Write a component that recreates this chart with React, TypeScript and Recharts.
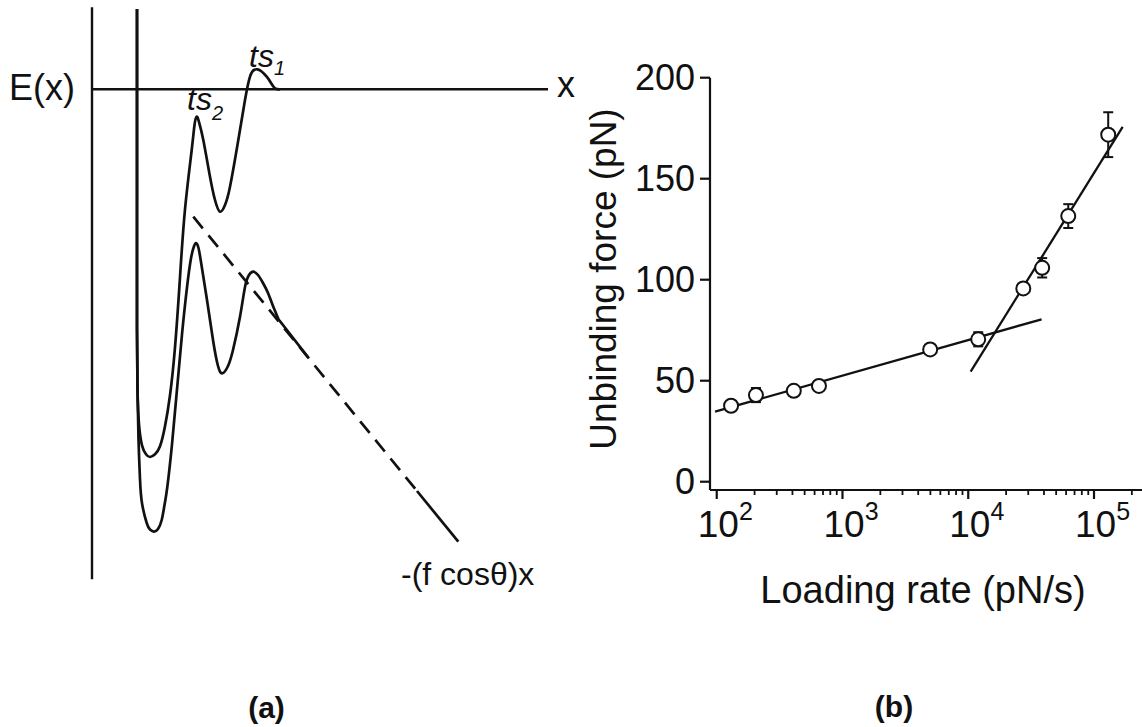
import React from "react";
import { ComposedChart, Line, Scatter, XAxis, YAxis, ErrorBar, ReferenceLine } from "recharts";

const FONT = "'Liberation Sans', Arial, Helvetica, sans-serif";
const INK = "#111";

// ---- panel (a): schematic energy landscape (arbitrary units) ----
const upperX = [4.5, 4.5, 4.5, 4.5, 4.5, 4.55, 4.7, 5.0, 5.4, 5.8, 6.3, 6.8, 7.3, 7.8, 8.3, 8.8, 9.3, 9.97, 10.25, 10.47, 10.7, 11.13, 11.8, 12.3, 12.8, 13.3, 13.8, 14.63, 15.3, 15.8, 16.2, 16.53, 16.9, 17.47, 17.9, 18.3, 18.8];
const upperE = [8.03, 0, -8, -16, -24, -30, -33.5, -35.6, -36.5, -36.77, -36.5, -35.7, -33.7, -30.6, -25.8, -18.8, -12.0, -6.07, -3.57, -2.74, -3.27, -5.07, -8.74, -11.07, -12.24, -11.57, -9.74, -5.07, -1.07, 1.26, 1.93, 2.0, 1.83, 1.26, 0.63, 0.1, 0];

const lowerX = [4.5, 4.5, 4.5, 4.5, 4.5, 4.55, 4.65, 4.8, 5.0, 5.47, 5.8, 6.2, 6.6, 6.97, 7.25, 7.53, 8.0, 8.5, 9.0, 9.5, 9.9, 10.2, 10.43, 10.65, 10.9, 11.5, 12.1, 12.6, 13.05, 13.6, 14.1, 14.8, 15.3, 15.7, 16.13, 16.6, 17.1, 17.6, 18.1, 18.6, 19.1, 21.63];
const lowerE = [8.03, 0, -8, -16, -24, -30, -35, -39, -41.4, -43.37, -44.02, -44.24, -43.97, -43.07, -41.57, -39.77, -35.5, -30.0, -24.5, -19.8, -16.9, -15.7, -15.4, -15.87, -17.27, -21.07, -25.07, -27.67, -28.4, -27.67, -26.07, -22.74, -19.77, -18.57, -18.24, -18.57, -19.37, -20.37, -21.67, -22.87, -23.57, -26.84];

const tiltX = [10.13, 32.5];
const tiltE = [-12.74, -40.17];
const tailX = [32.5, 36.63];
const tailE = [-40.17, -45.24];

// ---- panel (b): unbinding force vs loading rate ----
const loadingRates = [130, 205, 410, 650, 4980, 12000, 27400, 38700, 62400, 129700];
const unbindingForces = [37.6, 42.9, 45.0, 47.4, 65.5, 70.5, 95.7, 105.9, 131.5, 171.8];
const forceErrors = [1, 3.5, 1, 1, 1, 3.5, 1, 4.8, 5.9, 11.1];

const lowFitRates = [97, 38300];
const lowFitForces = [34.7, 80.4];
const highFitRates = [10450, 169000];
const highFitForces = [54.5, 175.7];

const forceTicks = [0, 50, 100, 150, 200];
const rateTicks = [
  100, 200, 300, 400, 500, 600, 700, 800, 900,
  1000, 2000, 3000, 4000, 5000, 6000, 7000, 8000, 9000,
  10000, 20000, 30000, 40000, 50000, 60000, 70000, 80000, 90000,
  100000, 200000,
];

const toXY = (xs: number[], ys: number[]) => xs.map((x, i) => ({ x, e: ys[i] }));

const upper = toXY(upperX, upperE);
const lower = toXY(lowerX, lowerE);
const tilt = toXY(tiltX, tiltE);
const tail = toXY(tailX, tailE);

const points = loadingRates.map((rate, i) => ({ rate, force: unbindingForces[i], err: forceErrors[i] }));
const lowFit = lowFitRates.map((rate, i) => ({ rate, force: lowFitForces[i] }));
const highFit = highFitRates.map((rate, i) => ({ rate, force: highFitForces[i] }));

const OpenCircle = (p: any) => (
  <circle cx={p.cx} cy={p.cy} r={7} fill="#fff" stroke={INK} strokeWidth={2} />
);

function LogTick(props: any) {
  const { x, y, payload } = props;
  const lg = Math.log10(payload.value);
  const exp = Math.round(lg);
  const major = Math.abs(lg - exp) < 1e-6;
  return (
    <g>
      <line x1={x} y1={y} x2={x} y2={y + (major ? 9 : 5)} stroke={INK} strokeWidth={major ? 2.2 : 1.8} />
      {major && (
        <text x={x - 19} y={y + 47} fontSize={37} fontFamily={FONT} fill={INK}>
          10
          <tspan dy={-17} fontSize={25}>
            {exp}
          </tspan>
        </text>
      )}
    </g>
  );
}

export default function App() {
  return (
    <div style={{ position: "absolute", left: 0, top: 0, width: 1142, height: 727, background: "#fff" }}>
      {/* (a) energy landscape */}
      <div style={{ position: "absolute", left: 0, top: 0 }}>
        <ComposedChart width={560} height={727} margin={{ top: 7.3, right: 12, bottom: 147.7, left: 92 }}>
          <XAxis type="number" dataKey="x" domain={[0, 45.6]} hide allowDataOverflow />
          <YAxis type="number" dataKey="e" domain={[-49, 8.2]} hide allowDataOverflow />
          <ReferenceLine x={0} stroke={INK} strokeWidth={2.4} />
          <ReferenceLine y={0} stroke={INK} strokeWidth={2.4} />
          <Line data={upper} dataKey="e" type="natural" stroke={INK} strokeWidth={2.7} dot={false} activeDot={false} isAnimationActive={false} />
          <Line data={lower} dataKey="e" type="natural" stroke={INK} strokeWidth={2.7} dot={false} activeDot={false} isAnimationActive={false} />
          <Line data={tilt} dataKey="e" type="linear" stroke={INK} strokeWidth={2.7} strokeDasharray="15 9" dot={false} activeDot={false} isAnimationActive={false} />
          <Line data={tail} dataKey="e" type="linear" stroke={INK} strokeWidth={2.7} dot={false} activeDot={false} isAnimationActive={false} />
        </ComposedChart>
      </div>

      {/* (b) dynamic force spectrum */}
      <div style={{ position: "absolute", left: 560, top: 0 }}>
        <ComposedChart width={582} height={727} margin={{ top: 77.7, right: 0, bottom: 197, left: 90 }}>
          <XAxis
            type="number"
            dataKey="rate"
            scale="log"
            domain={[88.4, 240800]}
            allowDataOverflow
            ticks={rateTicks}
            interval={0}
            height={40}
            tickSize={0}
            tickMargin={0}
            tickLine={false}
            tick={<LogTick />}
            axisLine={{ stroke: INK, strokeWidth: 2.2 }}
          />
          <YAxis
            type="number"
            domain={[-4.1, 200]}
            allowDataOverflow
            ticks={forceTicks}
            width={60}
            tickSize={10}
            tickMargin={5}
            axisLine={{ stroke: INK, strokeWidth: 2.2 }}
            tickLine={{ stroke: INK, strokeWidth: 2.2 }}
            tick={{ fontSize: 36, fontFamily: FONT, fill: INK }}
          />
          <Line data={lowFit} dataKey="force" type="linear" stroke={INK} strokeWidth={2.3} dot={false} activeDot={false} isAnimationActive={false} />
          <Line data={highFit} dataKey="force" type="linear" stroke={INK} strokeWidth={2.3} dot={false} activeDot={false} isAnimationActive={false} />
          <Scatter data={points} dataKey="force" shape={OpenCircle} isAnimationActive={false}>
            <ErrorBar dataKey="err" direction="y" width={5} stroke={INK} strokeWidth={2} />
          </Scatter>
        </ComposedChart>
      </div>

      {/* text annotations */}
      <svg width={1142} height={727} style={{ position: "absolute", left: 0, top: 0, pointerEvents: "none" }} fontFamily={FONT} fill={INK}>
        <text x={9} y={100} fontSize={36}>E(x)</text>
        <text x={557} y={97} fontSize={36}>x</text>
        <text x={249} y={67} fontSize={32} fontStyle="italic">
          ts<tspan dy={8} fontSize={20}>1</tspan>
        </text>
        <text x={187} y={110} fontSize={32} fontStyle="italic">
          ts<tspan dy={10} fontSize={20}>2</tspan>
        </text>
        <text x={401} y={585} fontSize={32}>-(f cosθ)x</text>
        <text x={266.5} y={718} fontSize={30} fontWeight="bold" textAnchor="middle">(a)</text>
        <text x={894} y={717} fontSize={30} fontWeight="bold" textAnchor="middle">(b)</text>
        <text x={616} y={279} fontSize={37} textAnchor="middle" transform="rotate(-90 616 279)">
          Unbinding force (pN)
        </text>
        <text x={923} y={603} fontSize={38} textAnchor="middle">Loading rate (pN/s)</text>
      </svg>
    </div>
  );
}
